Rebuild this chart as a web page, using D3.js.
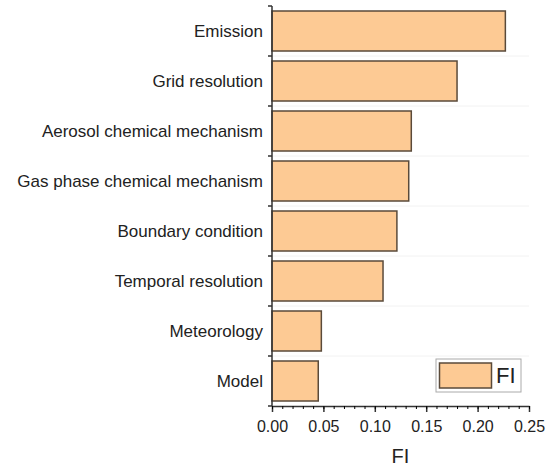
<!DOCTYPE html>
<html><head><meta charset="utf-8">
<script src="https://cdn.jsdelivr.net/npm/d3@7"></script>
<style>body{margin:0;background:#fff;font-family:"Liberation Sans",Arial,sans-serif;}</style>
</head><body><div id="chart"></div>
<script>
var categories = ["Emission", "Grid resolution", "Aerosol chemical mechanism", "Gas phase chemical mechanism",
  "Boundary condition", "Temporal resolution", "Meteorology", "Model"];
var fiValues = [0.227, 0.180, 0.1355, 0.133, 0.1215, 0.108, 0.048, 0.045];
var xTicks = [0, 0.05, 0.10, 0.15, 0.20, 0.25];

var svgWidth = 546, svgHeight = 471;
var margin = {top: 6, right: 17, bottom: 65, left: 272};
var width = svgWidth - margin.left - margin.right;
var height = svgHeight - margin.top - margin.bottom;

var svg = d3.select("#chart").append("svg")
  .attr("width", svgWidth).attr("height", svgHeight);
var g = svg.append("g").attr("transform", `translate(${margin.left}, ${margin.top})`);

var x = d3.scaleLinear().domain([0, 0.25]).range([0, width]);
var y = d3.scaleBand().domain(categories).range([0, height]).paddingInner(0.2).paddingOuter(0.1);

// faint separators
var step = height / categories.length;
g.selectAll("line.sep").data(d3.range(1, categories.length)).enter().append("line")
  .attr("x1", 0).attr("x2", width).attr("y1", d => d * step).attr("y2", d => d * step)
  .attr("stroke", "#f2f2f2");

g.selectAll("rect.bar").data(categories).enter().append("rect")
  .attr("x", 0).attr("y", d => y(d))
  .attr("width", (d, i) => x(fiValues[i])).attr("height", y.bandwidth())
  .attr("fill", "#fdca94").attr("stroke", "#5a4a3a").attr("stroke-width", 1.5);

// x axis
var xAxis = g.append("g").attr("transform", `translate(0, ${height})`)
  .call(d3.axisBottom(x).tickValues(xTicks).tickFormat(d3.format(".2f")).tickSize(6).tickSizeOuter(0));
g.append("g").attr("transform", `translate(0, ${height})`)
  .call(d3.axisBottom(x).tickValues(d3.range(0, 0.2501, 0.01)).tickFormat("").tickSize(3).tickSizeOuter(0))
  .select(".domain").remove();
xAxis.selectAll("text").attr("font-size", 16).attr("fill", "#222").attr("dy", "1.05em")
  .attr("font-family", "Liberation Sans, Arial, sans-serif");

// y axis with ticks at band boundaries
g.append("line").attr("x1", 0).attr("x2", 0).attr("y1", 0).attr("y2", height).attr("stroke", "#333").attr("stroke-width", 1.5);
g.selectAll("line.yt").data(d3.range(0, categories.length + 1)).enter().append("line")
  .attr("x1", -4).attr("x2", 0).attr("y1", d => d * step).attr("y2", d => d * step)
  .attr("stroke", "#333").attr("stroke-width", 1.5);
g.selectAll("text.yl").data(categories).enter().append("text")
  .attr("x", -9).attr("y", d => y(d) + y.bandwidth() / 2).attr("dy", "0.35em")
  .attr("text-anchor", "end").attr("font-size", 17).attr("fill", "#222").text(d => d);
xAxis.selectAll("path, line").attr("stroke", "#333").attr("stroke-width", 1.5);

g.append("text").attr("x", width / 2).attr("y", height + 57).attr("text-anchor", "middle")
  .attr("font-size", 20).attr("fill", "#222").text("FI");

// legend
var lg = svg.append("g").attr("transform", "translate(436, 359)");
lg.append("rect").attr("width", 85).attr("height", 33).attr("fill", "#fff").attr("stroke", "#aaa");
lg.append("rect").attr("x", 3.5).attr("y", 4).attr("width", 52).attr("height", 25)
  .attr("fill", "#fdca94").attr("stroke", "#5a4a3a").attr("stroke-width", 1.5);
lg.append("text").attr("x", 60).attr("y", 24).attr("font-size", 22).attr("fill", "#222").text("FI");
</script></body></html>
